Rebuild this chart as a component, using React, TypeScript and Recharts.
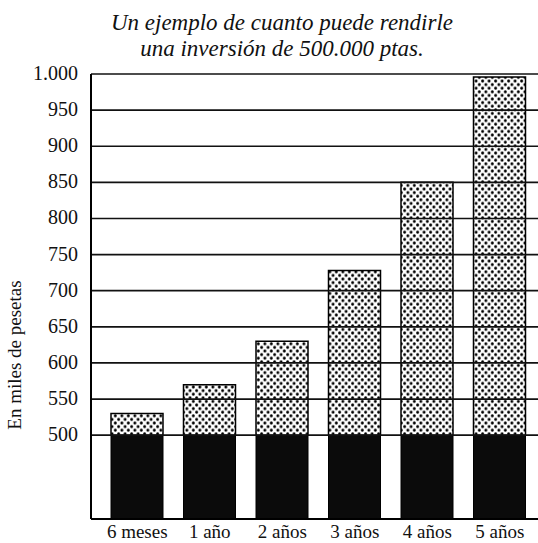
import { Bar, BarChart, ReferenceLine, XAxis, YAxis } from 'recharts'

const periods = ['6 meses', '1 año', '2 años', '3 años', '4 años', '5 años']
const totals = [530, 570, 630, 728, 850, 996]
const capital = 500
const yTicks = [500, 550, 600, 650, 700, 750, 800, 850, 900, 950, 1000]

const data = periods.map((p, i) => ({
  name: p,
  base: capital,
  gain: totals[i] - capital,
}))

const serif = '"Liberation Serif", "Times New Roman", serif'

const fmt = (v: number) => (v >= 1000 ? `${Math.floor(v / 1000)}.${String(v % 1000).padStart(3, '0')}` : String(v))

function XTick({ x, y, payload }: any) {
  return (
    <text x={x} y={y + 17} textAnchor="middle" style={{ fontFamily: serif, fontSize: 19, fill: '#111' }}>
      {payload.value}
    </text>
  )
}

function YTick({ x, y, payload }: any) {
  return (
    <text x={x} y={y + 6} textAnchor="end" style={{ fontFamily: serif, fontSize: 20, fill: '#111' }}>
      {fmt(payload.value)}
    </text>
  )
}

export default function App() {
  return (
    <div style={{ position: 'absolute', left: 0, top: 0, width: 538, height: 543, background: '#fff', fontFamily: serif }}>
      <svg width={0} height={0} style={{ position: 'absolute' }}>
        <defs>
          <pattern id="stipple" width={6.5} height={7.2} patternUnits="userSpaceOnUse">
            <rect width={6.5} height={7.2} fill="#fff" />
            <circle cx={1.6} cy={1.8} r={1.5} fill="#000" />
            <circle cx={4.85} cy={5.4} r={1.5} fill="#000" />
          </pattern>
        </defs>
      </svg>
      <div
        style={{
          position: 'absolute',
          left: 0,
          width: 564,
          top: 10,
          textAlign: 'center',
          fontFamily: serif,
          fontStyle: 'italic',
          fontSize: 23,
          lineHeight: '26px',
          color: '#111',
        }}
      >
        Un ejemplo de cuanto puede rendirle
        <br />
        una inversión de 500.000 ptas.
      </div>
      <div
        style={{
          position: 'absolute',
          left: 15,
          top: 355,
          transform: 'translate(-50%, -50%) rotate(-90deg)',
          whiteSpace: 'nowrap',
          fontFamily: serif,
          fontSize: 19,
          color: '#111',
        }}
      >
        En miles de pesetas
      </div>
      <BarChart
        width={538}
        height={543}
        data={data}
        barSize={52}
        margin={{ top: 74, right: 0, left: 0, bottom: 0 }}
        style={{ position: 'absolute', left: 0, top: 0 }}
      >
        <XAxis
          dataKey="name"
          height={24}
          padding={{ left: 10, right: 2 }}
          axisLine={{ stroke: '#000', strokeWidth: 2 }}
          tickLine={false}
          tickSize={0}
          tick={<XTick />}
          interval={0}
        />
        <YAxis
          type="number"
          domain={[384, 1000]}
          allowDataOverflow
          ticks={yTicks}
          width={91}
          axisLine={{ stroke: '#000', strokeWidth: 2 }}
          tickLine={false}
          tickSize={0}
          tickMargin={13}
          tick={<YTick />}
        />
        <Bar dataKey="base" stackId="a" fill="#0b0b0b" stroke="#000" strokeWidth={1} isAnimationActive={false} />
        <Bar dataKey="gain" stackId="a" fill="url(#stipple)" stroke="#000" strokeWidth={1.5} isAnimationActive={false} />
        {yTicks.map(t => (
          <ReferenceLine key={t} y={t} stroke="#111" strokeWidth={1.7} />
        ))}
      </BarChart>
    </div>
  )
}
